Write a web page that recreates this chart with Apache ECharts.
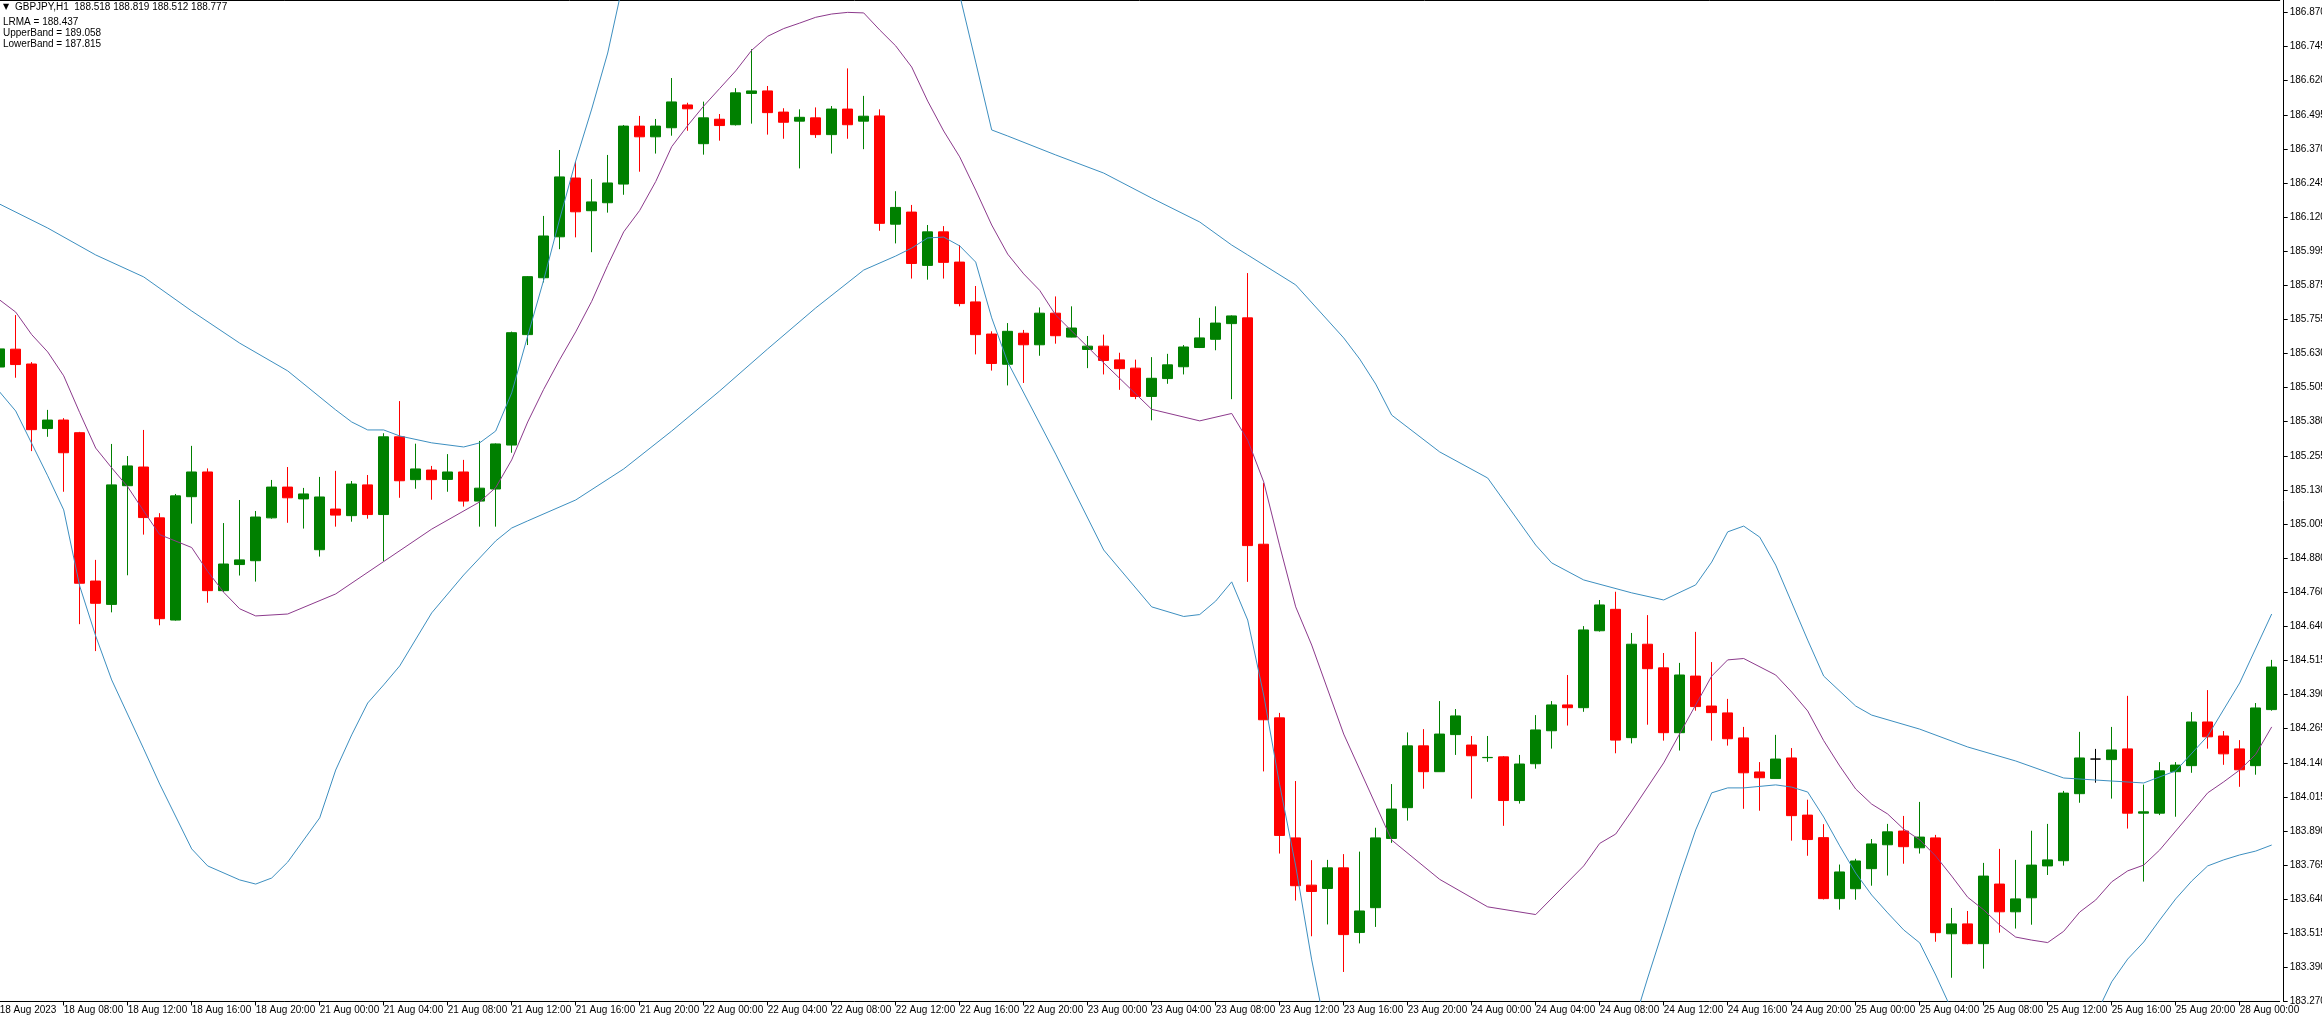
<!DOCTYPE html>
<html><head><meta charset="utf-8">
<script src="https://cdn.jsdelivr.net/npm/echarts@6/dist/echarts.min.js"></script>
<style>html,body{margin:0;padding:0;background:#fff;overflow:hidden}#c{width:2322px;height:1018px}</style>
</head><body><div id="c"></div>
<script>
// ---- data (GBPJPY H1, 18 Aug 2023 04:00 -> 28 Aug 2023 02:00) ----
const opens = [
185.576,185.641,185.587,185.352,185.383,185.337,184.797,184.712,185.144,185.212,
185.027,184.655,185.104,185.194,184.762,184.857,184.871,185.027,185.139,185.096,
184.911,185.059,185.035,185.147,185.039,185.322,185.166,185.201,185.167,185.194,
185.088,185.132,185.292,185.694,185.901,186.050,186.264,186.145,186.174,186.242,
186.453,186.414,186.447,186.530,186.389,186.478,186.458,186.572,186.581,186.504,
186.471,186.483,186.422,186.515,186.471,186.490,186.096,186.140,185.946,186.068,
185.958,185.813,185.696,185.586,185.699,185.657,185.772,185.685,185.640,185.652,
185.602,185.572,185.469,185.534,185.577,185.647,185.677,185.734,185.755,184.931,
184.299,183.862,183.690,183.678,183.753,183.518,183.608,183.860,183.972,184.197,
184.103,184.238,184.200,184.154,184.157,183.998,184.132,184.252,184.346,184.336,
184.616,184.694,184.227,184.567,184.481,184.245,184.451,184.342,184.317,184.226,
184.102,184.078,184.153,183.945,183.863,183.641,183.677,183.750,183.837,183.887,
183.826,183.862,183.513,183.549,183.477,183.694,183.593,183.644,183.760,183.779,
184.023,184.149,184.147,184.186,183.952,183.952,184.103,184.125,184.284,184.233,
184.186,184.125,184.329];
const highs = [
185.674,185.765,185.594,185.420,185.390,185.340,184.874,185.296,185.252,185.347,
185.044,185.114,185.289,185.207,185.008,185.092,185.052,185.165,185.212,185.136,
185.176,185.198,185.161,185.183,185.335,185.452,185.297,185.216,185.259,185.238,
185.307,185.298,185.705,185.907,186.126,186.366,186.323,186.260,186.348,186.457,
186.490,186.479,186.628,186.538,186.542,186.497,186.591,186.733,186.599,186.518,
186.514,186.521,186.526,186.663,186.563,186.514,186.216,186.166,186.093,186.089,
186.020,185.871,185.706,185.736,185.711,185.793,185.833,185.797,185.689,185.694,
185.628,185.603,185.612,185.624,185.656,185.755,185.797,185.764,185.918,185.154,
184.317,184.069,183.781,183.782,183.803,183.812,183.899,184.058,184.246,184.258,
184.360,184.331,184.233,184.233,184.160,184.164,184.309,184.360,184.455,184.633,
184.728,184.758,184.608,184.673,184.535,184.499,184.612,184.502,184.368,184.266,
184.138,184.237,184.189,184.001,183.912,183.765,183.786,183.858,183.913,183.942,
183.993,183.873,183.607,183.596,183.771,183.822,183.782,183.888,183.913,184.033,
184.248,184.186,184.266,184.379,184.056,184.138,184.138,184.320,184.400,184.251,
184.218,184.353,184.510];
const lows = [
185.558,185.537,185.270,185.322,185.122,184.640,184.542,184.683,184.818,184.966,
184.636,184.653,185.006,184.718,184.757,184.817,184.795,185.024,185.009,184.988,
184.886,184.995,185.013,185.024,184.869,185.100,185.133,185.093,185.122,185.068,
184.995,184.995,185.264,185.656,185.884,186.005,186.048,185.994,186.138,186.203,
186.287,186.353,186.418,186.436,186.349,186.400,186.455,186.462,186.422,186.407,
186.299,186.410,186.353,186.407,186.369,186.072,186.026,185.898,185.894,185.898,
185.797,185.622,185.563,185.509,185.518,185.617,185.661,185.684,185.572,185.549,
185.493,185.459,185.382,185.515,185.549,185.645,185.637,185.459,184.794,184.104,
183.805,183.634,183.504,183.547,183.374,183.478,183.538,183.844,183.925,184.041,
184.103,184.164,184.005,184.139,183.906,183.987,184.114,184.187,184.271,184.321,
184.613,184.170,184.206,184.274,184.216,184.180,184.325,184.216,184.198,183.968,
183.961,184.078,183.852,183.797,183.638,183.601,183.637,183.688,183.725,183.768,
183.805,183.484,183.353,183.475,183.386,183.517,183.532,183.546,183.727,183.761,
183.990,184.063,184.005,183.896,183.703,183.945,183.939,184.099,184.187,184.128,
184.048,184.092,184.325];
const closes = [
185.642,185.585,185.348,185.383,185.264,184.789,184.716,185.147,185.216,185.028,
184.660,185.107,185.194,184.762,184.859,184.874,185.030,185.139,185.100,185.114,
185.103,185.037,185.150,185.039,185.322,185.162,185.205,185.166,185.194,185.088,
185.135,185.296,185.701,185.905,186.053,186.268,186.141,186.177,186.246,186.453,
186.414,186.453,186.541,186.516,186.483,186.455,186.574,186.581,186.502,186.467,
186.485,186.422,186.515,186.458,186.489,186.099,186.157,185.953,186.068,185.957,
185.807,185.694,185.589,185.706,185.657,185.772,185.690,185.718,185.652,185.600,
185.570,185.469,185.535,185.584,185.649,185.682,185.736,185.762,184.926,184.292,
183.871,183.688,183.667,183.753,183.510,183.596,183.862,183.967,184.197,184.103,
184.240,184.306,184.161,184.155,183.998,184.131,184.255,184.346,184.336,184.619,
184.710,184.218,184.567,184.478,184.245,184.455,184.340,184.318,184.223,184.099,
184.081,184.149,183.943,183.856,183.641,183.738,183.778,183.840,183.884,183.830,
183.865,183.517,183.549,183.477,183.723,183.593,183.640,183.763,183.782,184.025,
184.153,184.149,184.182,183.952,183.957,184.106,184.127,184.284,184.230,184.168,
184.110,184.335,184.484];

// indicator lines, read at bar indices [bar, value]
const lrmaPts = [[0,185.820],[1,185.776],[2,185.694],[3,185.631],[4,185.544],[5,185.410],[6,185.281],[7,185.209],[8,185.140],[9,185.052],[10,184.966],[12,184.919],[13,184.832],[14,184.756],[15,184.696],[16,184.670],[18,184.677],[21,184.750],[24,184.868],[27,184.986],[30,185.085],[31,185.137],[32,185.238],[33,185.376],[34,185.495],[35,185.603],[36,185.704],[37,185.815],[38,185.946],[39,186.068],[40,186.146],[41,186.251],[42,186.378],[43,186.455],[44,186.526],[45,186.590],[46,186.654],[47,186.729],[48,186.780],[49,186.808],[50,186.828],[51,186.849],[52,186.861],[53,186.867],[54,186.865],[55,186.803],[56,186.745],[57,186.668],[58,186.544],[59,186.435],[60,186.341],[61,186.220],[62,186.093],[63,185.987],[64,185.915],[65,185.855],[66,185.765],[69,185.591],[72,185.422],[75,185.380],[77,185.407],[78,185.310],[79,185.158],[80,184.925],[81,184.703],[82,184.564],[84,184.240],[87,183.854],[90,183.711],[93,183.611],[96,183.583],[99,183.760],[100,183.842],[101,183.876],[102,183.960],[104,184.135],[105,184.241],[106,184.346],[107,184.451],[108,184.510],[109,184.515],[111,184.455],[112,184.393],[113,184.324],[114,184.216],[115,184.124],[116,184.040],[117,183.985],[118,183.949],[119,183.894],[120,183.855],[121,183.796],[122,183.723],[123,183.646],[124,183.600],[125,183.545],[126,183.501],[127,183.490],[128,183.481],[129,183.522],[130,183.592],[131,183.636],[132,183.702],[133,183.742],[134,183.763],[135,183.818],[136,183.887],[137,183.956],[138,184.026],[139,184.066],[140,184.109],[141,184.166],[142,184.266]];
const upperPts = [[0,186.169],[3,186.082],[6,185.984],[9,185.904],[12,185.780],[15,185.663],[18,185.562],[21,185.420],[22,185.376],[23,185.347],[24,185.347],[25,185.325],[27,185.300],[29,185.285],[30,185.300],[31,185.343],[32,185.482],[33,185.689],[34,185.893],[35,186.115],[36,186.326],[37,186.515],[38,186.719],[39,186.985],[42,187.422],[45,187.676],[48,187.895],[51,187.931],[54,187.822],[57,187.458],[59,187.130],[60,186.930],[61,186.686],[62,186.439],[63,186.417],[66,186.348],[69,186.282],[72,186.191],[75,186.104],[77,186.020],[78,185.984],[81,185.875],[84,185.682],[85,185.605],[86,185.514],[87,185.401],[90,185.267],[93,185.172],[96,184.928],[97,184.863],[99,184.801],[102,184.754],[104,184.728],[106,184.783],[107,184.866],[108,184.976],[109,184.997],[110,184.957],[111,184.855],[113,184.582],[114,184.451],[116,184.342],[117,184.309],[120,184.258],[123,184.193],[126,184.142],[129,184.080],[132,184.069],[134,184.062],[136,184.106],[138,184.233],[140,184.426],[142,184.677]];
const lowerPts = [[0,185.485],[1,185.416],[3,185.180],[4,185.056],[5,184.779],[6,184.597],[7,184.437],[9,184.186],[10,184.058],[12,183.822],[13,183.760],[15,183.709],[16,183.694],[17,183.716],[18,183.774],[20,183.935],[21,184.109],[22,184.237],[23,184.353],[24,184.419],[25,184.488],[27,184.681],[29,184.819],[31,184.943],[32,184.990],[33,185.016],[36,185.092],[39,185.205],[42,185.343],[45,185.489],[48,185.642],[51,185.791],[54,185.929],[56,185.980],[57,186.009],[58,186.046],[59,186.049],[60,186.017],[61,185.958],[62,185.755],[63,185.594],[66,185.259],[69,184.910],[72,184.703],[74,184.668],[75,184.675],[76,184.724],[77,184.794],[78,184.655],[79,184.382],[80,184.055],[81,183.760],[82,183.418],[83,183.126],[85,182.872],[88,182.690],[91,182.617],[94,182.653],[97,182.799],[100,183.017],[102,183.163],[103,183.352],[104,183.534],[105,183.720],[106,183.891],[107,184.026],[108,184.044],[109,184.044],[111,184.055],[112,184.047],[113,184.029],[114,183.938],[115,183.833],[116,183.734],[117,183.654],[118,183.589],[119,183.527],[120,183.480],[121,183.363],[122,183.236],[124,183.126],[127,183.054],[130,183.126],[131,183.217],[132,183.338],[133,183.421],[134,183.483],[135,183.563],[136,183.640],[137,183.705],[138,183.760],[139,183.782],[140,183.800],[141,183.814],[142,183.836]];

// tick labels
const timeLabels = ['18 Aug 2023','18 Aug 08:00','18 Aug 12:00','18 Aug 16:00','18 Aug 20:00','21 Aug 00:00','21 Aug 04:00','21 Aug 08:00','21 Aug 12:00','21 Aug 16:00','21 Aug 20:00','22 Aug 00:00','22 Aug 04:00','22 Aug 08:00','22 Aug 12:00','22 Aug 16:00','22 Aug 20:00','23 Aug 00:00','23 Aug 04:00','23 Aug 08:00','23 Aug 12:00','23 Aug 16:00','23 Aug 20:00','24 Aug 00:00','24 Aug 04:00','24 Aug 08:00','24 Aug 12:00','24 Aug 16:00','24 Aug 20:00','25 Aug 00:00','25 Aug 04:00','25 Aug 08:00','25 Aug 12:00','25 Aug 16:00','25 Aug 20:00','28 Aug 00:00'];
const priceLabels = ['183.270','183.390','183.515','183.640','183.765','183.890','184.015','184.140','184.265','184.390','184.515','184.640','184.760','184.880','185.005','185.130','185.255','185.380','185.505','185.630','185.755','185.875','185.995','186.120','186.245','186.370','186.495','186.620','186.745','186.870'];
const legendLines = ['GBPJPY,H1  188.518 188.819 188.512 188.777','LRMA = 188.437','UpperBand = 189.058','LowerBand = 187.815'];

// ---- chart ----
const Y_MIN = 183.2665, Y_MAX = 186.912, Y_STEP = 0.1241379;
const FONT = 'Liberation Sans, Arial, sans-serif';
const cats = opens.map((_, i) => String(i));
const candles = opens.map((o, i) => [o, closes[i], lows[i], highs[i]]);
const every4 = (idx) => idx % 4 === 0;

const chart = echarts.init(document.getElementById('c'), null, {renderer: 'canvas'});
chart.setOption({
  animation: false,
  backgroundColor: '#ffffff',
  textStyle: {fontFamily: FONT},
  grid: {left: -8.3, top: 0, width: 2288, height: 1001.5, containLabel: false, outerBoundsMode: 'none'},
  xAxis: [{
    type: 'category', data: cats, boundaryGap: true, position: 'bottom',
    axisLine: {show: true, lineStyle: {color: '#000', width: 1}},
    axisTick: {show: true, alignWithLabel: true, interval: every4, length: 4, lineStyle: {color: '#000'}},
    axisLabel: {show: true, interval: every4, align: 'left', margin: 4, color: '#000', fontSize: 10, fontFamily: FONT,
      formatter: (v, idx) => timeLabels[idx / 4] || ''},
    splitLine: {show: false}
  }, {
    type: 'category', data: cats, position: 'top',
    axisLine: {show: true, lineStyle: {color: '#000', width: 1}},
    axisTick: {show: false}, axisLabel: {show: false}, splitLine: {show: false}
  }],
  yAxis: {
    type: 'value', position: 'right', offset: 4, min: Y_MIN, max: Y_MAX, interval: Y_STEP,
    axisLine: {show: true, lineStyle: {color: '#000', width: 1}},
    axisTick: {show: true, length: 4, lineStyle: {color: '#000'}},
    axisLabel: {show: true, margin: 6, color: '#000', fontSize: 10, fontFamily: FONT, align: 'left',
      showMaxLabel: false,
      formatter: (v) => {
        const r = (v - Y_MIN) / Y_STEP, k = Math.round(r);
        return (Math.abs(r - k) < 0.02 && priceLabels[k]) || '';
      }},
    splitLine: {show: false}
  },
  graphic: [
    {type: 'text', left: 3, top: 3, style: {text: '\u25BC', font: '8px DejaVu Sans', fill: '#000'}},
    {type: 'text', left: 15, top: 2, style: {text: legendLines[0], font: '10px ' + FONT, fill: '#000'}},
    {type: 'text', left: 3, top: 17, style: {text: legendLines[1], font: '10px ' + FONT, fill: '#000'}},
    {type: 'text', left: 3, top: 28, style: {text: legendLines[2], font: '10px ' + FONT, fill: '#000'}},
    {type: 'text', left: 3, top: 39, style: {text: legendLines[3], font: '10px ' + FONT, fill: '#000'}}
  ],
  series: [{
    type: 'candlestick', data: candles, barWidth: 10, z: 2,
    itemStyle: {color: '#008000', color0: '#ff0000', borderColor: '#008000', borderColor0: '#ff0000',
      borderColorDoji: '#000000', borderWidth: 1}
  }, {
    name: 'LRMA', type: 'line', data: lrmaPts, showSymbol: false, symbol: 'none', z: 3, clip: true,
    lineStyle: {color: '#8c3a8c', width: 1}
  }, {
    name: 'UpperBand', type: 'line', data: upperPts, showSymbol: false, symbol: 'none', z: 3, clip: true,
    lineStyle: {color: '#3d8fc0', width: 1}
  }, {
    name: 'LowerBand', type: 'line', data: lowerPts, showSymbol: false, symbol: 'none', z: 3, clip: true,
    lineStyle: {color: '#3d8fc0', width: 1}
  }]
});
</script></body></html>
